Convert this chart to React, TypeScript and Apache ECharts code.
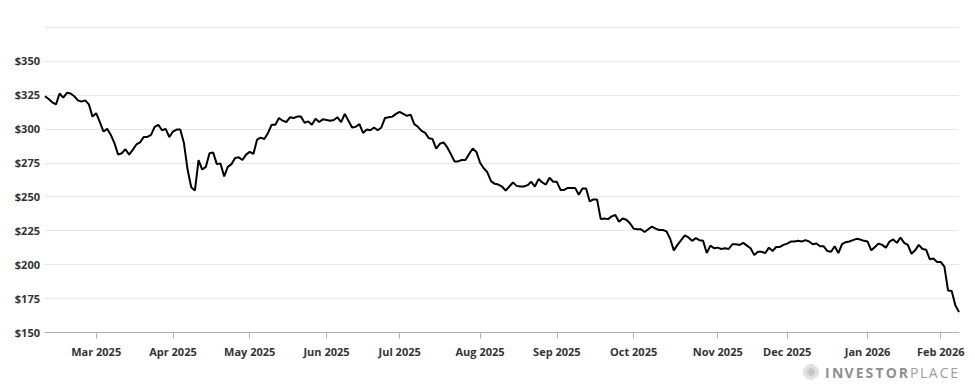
import React, { useEffect, useRef } from "react";
import * as echarts from "echarts";

// ---- data ----
const START_DATE = "2025-02-10";
const END_DATE = "2026-02-09";
const HOLIDAYS = [
  "2025-02-17", "2025-04-18", "2025-05-26", "2025-06-19", "2025-07-04",
  "2025-09-01", "2025-11-27", "2025-12-25", "2026-01-01", "2026-01-19",
];
const MONTHS = ["Jan", "Feb", "Mar", "Apr", "May", "Jun", "Jul", "Aug", "Sep", "Oct", "Nov", "Dec"];

function buildTradingDays(start: string, end: string, holidays: string[]): string[] {
  const out: string[] = [];
  const d = new Date(start + "T00:00:00Z");
  const e = new Date(end + "T00:00:00Z");
  while (d.getTime() <= e.getTime()) {
    const wd = d.getUTCDay();
    const s = d.toISOString().slice(0, 10);
    if (wd !== 0 && wd !== 6 && holidays.indexOf(s) < 0) out.push(s);
    d.setUTCDate(d.getUTCDate() + 1);
  }
  return out;
}
const DATES = buildTradingDays(START_DATE, END_DATE, HOLIDAYS);

const PRICES = [
  324, 322, 319.5, 318, 326, 323, 326.5, 326, 324, 321,
  320, 321, 318, 309, 311.5, 305, 298, 300, 295.5, 289.5,
  281, 282, 285, 281, 284.5, 288.5, 290, 294, 294, 295.5,
  301.5, 303, 299, 300, 294, 298, 299.5, 299.5, 289.5, 270,
  257, 254.5, 277, 270, 272, 282, 282.5, 274, 274.5, 265,
  272, 274, 278.5, 279, 277, 281, 283, 281.5, 292, 293.5,
  292.5, 297, 303, 303, 308, 306, 305, 308.5, 308, 309,
  309, 304.5, 305.5, 303, 307.5, 305, 307, 306.5, 306, 306.5,
  308.5, 305, 311, 306, 301, 301.5, 303.5, 297, 299.5, 299,
  301, 299, 301, 308, 308.5, 309, 311, 312.5, 311, 309.5,
  310.5, 303.5, 301.5, 298.5, 297, 293, 292.5, 285.5, 289, 290,
  286.5, 281.5, 276, 276, 277, 277, 281.5, 285.5, 283, 275,
  271, 268, 261.5, 259.5, 259, 257.5, 254.5, 257.5, 260.5, 258,
  257.5, 257.5, 258.5, 261, 257.5, 263, 260.5, 259, 264, 261,
  261, 255, 255, 256.5, 256.5, 256.5, 251.5, 256, 256, 246.5,
  248, 248, 233.5, 234, 233.5, 235.5, 236.5, 231.5, 234, 233,
  230.5, 226.5, 226, 226, 224, 226, 228, 226.5, 225.5, 225.5,
  224.5, 219, 210.5, 214.5, 218, 221.5, 220, 217.5, 219.5, 218,
  217.5, 208.5, 214, 212, 212.5, 211.5, 212, 211.5, 215, 215,
  214.5, 216, 214, 212, 207, 209.5, 209.5, 208.5, 212.5, 210,
  213, 213, 214.5, 215.5, 217, 217, 217.5, 217, 218, 217,
  215, 215.5, 213.5, 213.5, 210, 209.5, 213.5, 208.5, 215, 216.5,
  217, 218, 219, 218.5, 217.5, 217, 210.5, 213, 215.5, 214.5,
  212.5, 217, 218.5, 216, 220, 216, 214.5, 208, 210.5, 214.5,
  211.5, 211, 204, 204.5, 202, 202, 198.5, 181, 180.5, 170, 165,
];

const Y_MIN = 150;
const Y_MAX = 375;
const Y_STEP = 25;
const HIDDEN_Y_LABELS = [375];
const LOGO_BOLD = "INVESTOR";
const LOGO_LIGHT = "PLACE";

// ---- helpers ----
function isMonthStart(i: number): boolean {
  if (i <= 0) return false;
  return DATES[i].slice(0, 7) !== DATES[i - 1].slice(0, 7);
}
function monthLabel(d: string): string {
  return MONTHS[parseInt(d.slice(5, 7), 10) - 1] + " " + d.slice(0, 4);
}

const BOLD_W: Record<string, number> = { I: 4.6, N: 10.3, V: 8.9, E: 7.3, S: 7.7, T: 7.8, O: 10.8, R: 8.8 };
const LIGHT_W: Record<string, number> = { P: 7.6, L: 6.4, A: 8.6, C: 8.2, E: 6.9 };

function buildLogo(): any[] {
  const els: any[] = [];
  const cy = 372.5;
  // halftone globe
  const gcx = 811, gcy = 372, gr = 9;
  for (let dx = -gr; dx <= gr; dx += 2) {
    for (let dy = -gr; dy <= gr; dy += 2) {
      const dist = Math.sqrt(dx * dx + dy * dy);
      if (dist <= gr - 0.5) {
        const r = 0.45 + 0.5 * (1 - dist / gr);
        els.push({
          type: "circle",
          shape: { cx: gcx + dx, cy: gcy + dy, r },
          style: { fill: "#a6a6a6" },
          silent: true,
        });
      }
    }
  }
  let x = 825;
  const sp = 2.35;
  for (const ch of LOGO_BOLD) {
    els.push({
      type: "text",
      x,
      y: cy,
      style: {
        text: ch,
        fill: "#8f8f8f",
        font: "bold 14px 'Open Sans', sans-serif",
        verticalAlign: "middle",
        align: "left",
      },
      silent: true,
    });
    x += (BOLD_W[ch] || 8) + sp;
  }
  for (const ch of LOGO_LIGHT) {
    els.push({
      type: "text",
      x,
      y: cy,
      style: {
        text: ch,
        fill: "#9d9d9d",
        font: "normal 14px 'Open Sans', sans-serif",
        verticalAlign: "middle",
        align: "left",
      },
      silent: true,
    });
    x += (LIGHT_W[ch] || 8) + sp;
  }
  return els;
}

export default function App() {
  const ref = useRef<HTMLDivElement>(null);
  useEffect(() => {
    if (!ref.current) return;
    const chart = echarts.init(ref.current, null, { renderer: "svg" });
    const font = "'Open Sans', 'DejaVu Sans', sans-serif";
    chart.setOption({
      animation: false,
      backgroundColor: "#ffffff",
      grid: { left: 45, right: 16, top: 27, bottom: 57.5, containLabel: false },
      xAxis: {
        type: "category",
        data: DATES,
        boundaryGap: false,
        axisLine: { show: true, lineStyle: { color: "#aab0ba", width: 1 } },
        axisTick: {
          show: true,
          length: 6,
          interval: (i: number) => isMonthStart(i),
          lineStyle: { color: "#aab0ba" },
        },
        axisLabel: {
          interval: (i: number) => isMonthStart(i),
          formatter: (v: string) => monthLabel(v),
          fontFamily: font,
          fontWeight: "bold",
          fontSize: 11,
          color: "#333333",
          margin: 13,
        },
        splitLine: { show: false },
      },
      yAxis: {
        type: "value",
        min: Y_MIN,
        max: Y_MAX,
        interval: Y_STEP,
        axisLine: { show: false },
        axisTick: { show: false },
        axisLabel: {
          formatter: (v: number) => (HIDDEN_Y_LABELS.indexOf(v) >= 0 ? "" : "$" + v),
          fontFamily: font,
          fontWeight: "bold",
          fontSize: 11,
          color: "#333333",
          margin: 5,
        },
        splitLine: { show: true, lineStyle: { color: "#e6e6e6", width: 1 } },
      },
      series: [
        {
          type: "line",
          data: PRICES,
          showSymbol: false,
          symbol: "none",
          lineStyle: { color: "#000000", width: 2 },
          itemStyle: { color: "#000000" },
        },
      ],
      graphic: buildLogo(),
    });
    return () => chart.dispose();
  }, []);
  return (
    <div
      ref={ref}
      style={{ position: "absolute", left: 0, top: 0, width: 975, height: 390 }}
    />
  );
}
